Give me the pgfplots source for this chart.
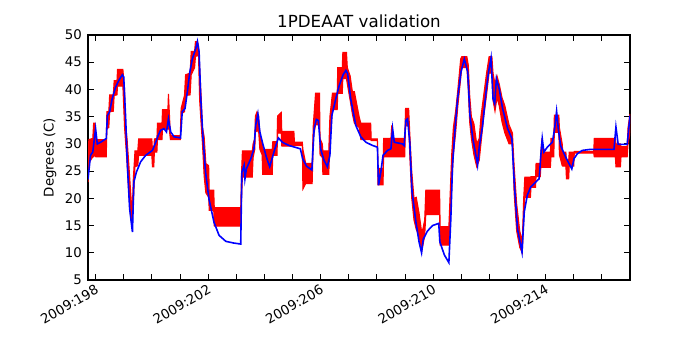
\documentclass[border=0pt]{standalone}
\usepackage{fontspec}
\setmainfont{DejaVu Sans}
\usepackage{pgfplots}
\usepackage{pgfplotstable}
\pgfplotsset{compat=1.18}

% measured telemetry: lower / upper edge of the toggling band
\pgfplotstableread{
d lo hi
197.73 23.0 26.5
197.76 26.5 30.8
197.90 27.6 31.0
197.93 27.6 33.8
197.98 28.0 33.8
198.01 27.6 30.8
198.38 27.6 30.8
198.40 32.8 35.9
198.47 33.0 36.0
198.50 35.9 39.0
198.63 36.0 39.0
198.66 38.9 41.6
198.76 39.0 41.6
198.78 40.6 43.7
198.97 40.6 43.7
199.03 33.0 40.0
199.06 30.8 33.8
199.12 26.4 30.8
199.18 20.9 26.4
199.25 16.6 20.9
199.30 15.0 17.0
199.34 19.0 23.5
199.40 25.8 28.7
199.50 26.0 28.7
199.53 27.9 30.9
200.00 27.9 30.9
200.02 25.8 29.0
200.07 25.8 29.0
200.09 28.5 30.9
200.18 28.5 31.0
200.20 30.8 33.8
200.36 30.8 33.8
200.38 32.7 36.3
200.57 32.7 36.3
200.59 32.7 39.2
200.62 32.7 36.0
200.66 30.8 31.5
201.01 30.8 31.5
201.04 35.5 36.5
201.16 35.9 38.9
201.20 38.9 42.7
201.36 39.0 43.0
201.40 42.7 47.0
201.52 44.0 47.0
201.55 46.0 48.8
201.62 46.3 48.8
201.66 46.0 48.0
201.70 38.0 44.0
201.76 33.0 38.0
201.80 30.0 33.0
201.86 24.0 31.3
201.92 21.0 26.4
202.02 20.2 26.0
202.04 17.8 21.5
202.20 17.8 21.5
202.22 14.9 18.3
203.16 14.9 18.3
203.19 20.0 25.0
203.22 23.9 28.7
203.57 23.9 28.7
203.60 27.5 30.0
203.66 29.0 31.0
203.68 32.1 35.1
203.74 32.5 35.9
203.80 32.1 35.1
203.84 29.0 31.5
203.92 28.0 30.5
203.94 24.4 29.0
204.28 24.4 29.0
204.30 27.9 30.4
204.45 27.9 30.4
204.47 32.0 35.1
204.60 32.0 35.8
204.62 29.6 32.3
205.05 29.6 32.3
205.07 29.7 30.3
205.35 29.7 30.3
205.37 21.7 29.0
205.47 22.7 26.4
205.70 22.7 26.4
205.74 31.0 33.5
205.82 33.5 39.3
205.96 33.5 39.3
205.98 28.0 31.0
206.06 27.5 30.0
206.08 24.4 28.7
206.29 24.4 28.7
206.33 30.0 35.0
206.42 36.3 39.3
206.59 36.3 39.3
206.61 39.3 44.0
206.77 39.3 44.0
206.79 42.0 46.8
206.92 42.0 46.8
206.95 41.0 44.0
207.05 38.0 42.5
207.13 35.5 39.6
207.20 33.8 39.6
207.37 33.0 35.0
207.43 30.8 33.8
207.78 30.8 33.8
207.80 30.6 30.9
208.02 30.6 30.9
208.04 22.5 25.5
208.22 22.5 25.5
208.24 27.6 31.0
208.50 27.6 31.0
208.53 27.6 33.4
208.56 27.6 31.0
208.99 27.6 31.0
209.02 33.3 36.5
209.13 33.3 36.5
209.17 28.0 32.0
209.24 20.0 25.0
209.32 16.0 20.0
209.40 14.3 20.2
209.50 13.0 17.3
209.60 10.5 13.5
209.70 13.0 16.0
209.74 17.0 21.5
210.23 17.0 21.5
210.25 11.4 14.8
210.56 11.4 14.8
210.60 14.0 20.0
210.66 22.0 28.0
210.72 28.0 33.0
210.80 32.0 36.0
210.88 37.0 40.0
210.98 42.0 45.6
211.02 44.0 46.0
211.20 44.0 46.0
211.25 40.0 44.5
211.30 34.0 39.0
211.36 31.0 35.0
211.45 28.0 33.7
211.55 25.8 30.0
211.64 27.0 31.0
211.70 30.0 35.0
211.80 35.0 39.0
211.90 39.0 43.0
211.99 43.0 46.0
212.09 43.0 46.0
212.13 38.0 43.0
212.20 36.0 41.0
212.27 38.5 42.5
212.35 37.0 41.0
212.45 34.0 38.5
212.55 32.0 37.0
212.70 30.0 33.5
212.82 30.0 32.0
212.88 21.0 26.0
212.97 14.0 19.0
213.08 11.0 14.0
213.17 10.0 12.0
213.22 16.0 20.0
213.26 20.2 23.9
213.46 20.2 23.9
213.48 22.0 24.0
213.64 22.0 24.0
213.66 24.0 26.4
213.81 24.0 26.4
213.83 25.7 28.5
213.87 25.7 31.0
213.90 25.7 28.5
214.17 25.7 28.5
214.19 27.6 31.0
214.29 27.6 31.0
214.31 32.1 35.3
214.47 32.1 35.3
214.49 28.0 33.0
214.59 26.0 30.0
214.61 25.9 28.5
214.72 25.9 28.5
214.74 23.6 27.0
214.82 23.6 27.0
214.84 25.9 28.5
215.00 25.9 28.5
215.02 28.3 28.6
215.71 28.3 28.6
215.73 27.6 31.0
216.48 27.6 31.0
216.50 25.8 30.0
216.66 25.8 30.0
216.68 27.6 29.5
216.90 27.6 29.5
216.93 30.0 33.0
217.00 32.0 35.5
}\redtab

% model prediction
\pgfplotstableread{
d t
197.73 23.5
197.82 27.9
197.90 28.5
198.00 32.8
198.06 30.0
198.18 30.3
198.38 31.0
198.42 35.2
198.50 35.9
198.59 38.3
198.71 40.4
198.83 41.7
198.95 42.7
199.00 42.3
199.07 34.6
199.13 26.1
199.21 18.1
199.31 13.8
199.36 23.0
199.45 24.8
199.60 26.7
199.78 27.9
200.02 28.8
200.07 29.4
200.14 30.3
200.23 31.6
200.31 32.5
200.43 32.8
200.52 32.2
200.59 34.6
200.67 32.2
200.79 31.3
201.02 31.1
201.08 35.9
201.18 36.5
201.26 39.5
201.35 43.2
201.44 45.6
201.56 47.5
201.62 48.8
201.68 46.9
201.74 38.3
201.82 31.0
201.91 24.8
202.03 19.9
202.21 15.6
202.39 13.2
202.63 12.1
202.90 11.8
203.16 11.6
203.20 24.8
203.28 26.1
203.31 23.6
203.36 25.4
203.52 27.3
203.63 29.1
203.69 33.4
203.77 35.5
203.84 32.2
203.93 30.3
204.07 27.6
204.19 25.8
204.29 27.6
204.41 29.7
204.50 31.1
204.64 30.3
204.88 29.7
205.28 29.1
205.36 27.3
205.50 25.9
205.69 25.2
205.77 32.8
205.85 34.5
205.92 34.3
206.00 29.1
206.12 27.0
206.24 25.8
206.33 27.9
206.40 35.2
206.54 38.3
206.66 40.7
206.80 42.7
206.90 43.5
206.96 42.9
207.07 38.3
207.25 33.4
207.43 31.3
207.61 30.3
207.85 29.7
208.02 29.4
208.06 22.4
208.14 24.8
208.22 27.9
208.38 28.8
208.50 29.1
208.56 32.8
208.62 30.3
208.91 30.0
208.97 29.7
209.03 34.3
209.09 34.6
209.17 30.3
209.25 21.2
209.39 15.6
209.50 12.0
209.59 10.0
209.65 12.5
209.80 14.0
209.98 15.0
210.20 15.4
210.24 12.0
210.40 9.6
210.56 8.2
210.63 16.3
210.69 26.1
210.79 33.4
210.87 38.3
210.99 43.2
211.11 45.6
211.23 43.2
211.31 35.2
211.41 31.0
211.50 28.5
211.58 26.1
211.64 29.4
211.76 33.4
211.88 39.5
211.97 43.2
212.06 45.8
212.13 38.3
212.19 37.4
212.25 42.0
212.35 40.1
212.47 36.5
212.65 32.8
212.80 31.0
212.89 22.4
213.00 14.4
213.16 10.1
213.24 17.5
213.35 20.6
213.47 22.1
213.65 23.0
213.77 23.6
213.83 27.9
213.88 31.0
213.94 28.5
214.06 29.4
214.24 30.3
214.32 32.8
214.39 36.0
214.45 32.8
214.53 29.7
214.71 27.6
214.93 25.4
215.01 27.3
215.13 28.2
215.30 28.8
215.60 29.0
216.43 29.0
216.50 33.1
216.58 29.9
216.90 29.9
217.00 35.2
}\bluetab

\begin{document}
\begin{tikzpicture}
\begin{axis}[
  name=main,
  at={(66pt,52.5pt)}, anchor=south west,
  scale only axis,
  width=406.5pt, height=183.75pt,
  xmin=197.73, xmax=217.0,
  ymin=5, ymax=50,
  ytick={5,10,...,50},
  xtick={198,202,206,210,214},
  xticklabels={2009:198,2009:202,2009:206,2009:210,2009:214},
  minor xtick={199,200,201,203,204,205,207,208,209,211,212,213,215,216},
  tick align=inside,
  major tick length=4.5pt, minor tick length=4.5pt,
  tick style={black, line width=0.6pt},
  axis line style={line width=0.9pt},
  /pgf/number format/assume math mode=true,
  tick label style={font=\fontsize{10}{12}\selectfont},
  xticklabel style={rotate=30, anchor=north east, inner sep=1pt, xshift=-1pt, yshift=-1pt},
  yticklabel style={xshift=-1pt},
  ylabel={Degrees (C)},
  ylabel style={at={(axis description cs:-0.07,0.5)}, anchor=center, font=\fontsize{10}{12}\selectfont},
  title={1PDEAAT validation},
  title style={at={(axis description cs:0.5,1)}, anchor=south, yshift=-4pt, font=\fontsize{12.5}{14}\selectfont},
]
\addplot[draw=none, forget plot, stack plots=y] table[x=d, y=lo] {\redtab};
\addplot[red, fill=red, line width=0.8pt, stack plots=y] table[x=d, y expr=\thisrow{hi}-\thisrow{lo}] {\redtab} \closedcycle;
\addplot[blue, line width=1.2pt, stack plots=false] table[x=d, y=t] {\bluetab};
\end{axis}
\path[use as bounding box] (0,0) rectangle (525pt,262.5pt);
\end{tikzpicture}
\end{document}
